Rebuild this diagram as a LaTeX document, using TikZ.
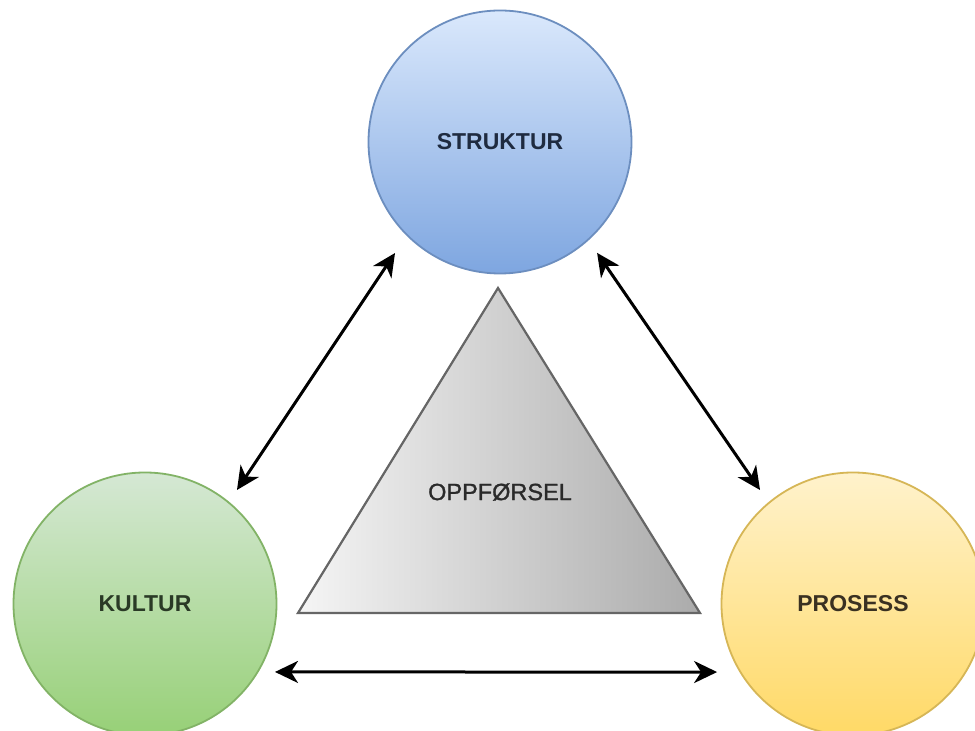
\documentclass[tikz,border=0pt]{standalone}
\usepackage{fontspec}
\setmainfont{Liberation Sans}
\newfontfamily\semibfont[FakeBold=1.2]{Liberation Sans}
\usetikzlibrary{arrows.meta,calc}
\definecolor{bluetop}{HTML}{DAE8FC}
\definecolor{bluebot}{HTML}{7EA6E0}
\definecolor{bluedraw}{HTML}{6C8EBF}
\definecolor{greentop}{HTML}{D5E8D4}
\definecolor{greenbot}{HTML}{97D077}
\definecolor{greendraw}{HTML}{82B366}
\definecolor{yeltop}{HTML}{FFF2CC}
\definecolor{yelbot}{HTML}{FFD966}
\definecolor{yeldraw}{HTML}{D6B656}
\definecolor{trileft}{HTML}{F5F5F5}
\definecolor{triright}{HTML}{ABABAB}
\definecolor{tridraw}{HTML}{666666}
\definecolor{txtblue}{HTML}{1F2B40}
\definecolor{txtgreen}{HTML}{2A3A26}
\definecolor{txtyel}{HTML}{3A3122}
\definecolor{txtgray}{HTML}{2A2A2A}
\tikzset{
  bigcircle/.style={circle, minimum size=263pt, inner sep=0pt, line width=1.8pt,
    font=\fontsize{23}{28}\selectfont\bfseries},
  arr/.style={line width=3pt, black, {Stealth[length=23pt,width=22pt,inset=7pt]}-{Stealth[length=23pt,width=22pt,inset=7pt]}},
}
\begin{document}
\begin{tikzpicture}[x=1pt,y=1pt]
\useasboundingbox (0,0) rectangle (975,731);
\clip (0,0) rectangle (975,731);
\fill[white] (0,0) rectangle (975,731);
% circles
\node[bigcircle, draw=bluedraw, top color=bluetop, bottom color=bluebot, text=txtblue] (S) at (500,589) {STRUKTUR};
\node[bigcircle, draw=greendraw, top color=greentop, bottom color=greenbot, text=txtgreen] (K) at (145,127) {KULTUR};
\node[bigcircle, draw=yeldraw, top color=yeltop, bottom color=yelbot, text=txtyel] (P) at (853,127) {PROSESS};
% triangle
\coordinate (TA) at (498,443);
\coordinate (TL) at (298,118);
\coordinate (TR) at (700,118);
\draw[line width=2.2pt, draw=tridraw, left color=trileft, right color=triright, line join=miter] (TL) -- (TA) -- (TR) -- cycle;
\node[font=\semibfont\fontsize{23.5}{28}\selectfont, text=txtgray] (O) at (500,239) {OPPFØRSEL};
% arrows
\draw[arr] ($(S)+(226.6:152.8)$) -- ($(K)+(51.1:146.5)$);
\draw[arr] ($(S)+(311.2:147.4)$) -- ($(P)+(129.2:147.1)$);
\draw[arr] ($(K)+(332.4:146.7)$) -- ($(P)+(206.6:152)$);
\end{tikzpicture}
\end{document}
